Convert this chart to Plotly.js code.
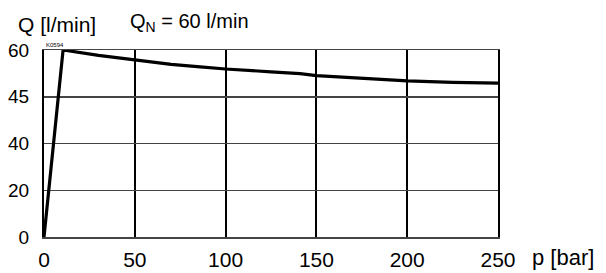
<!DOCTYPE html>
<html>
<head>
<meta charset="utf-8">
<script src="https://cdn.plot.ly/plotly-3.0.1.min.js"></script>
<style>html,body{margin:0;padding:0;background:#fff}#chart{width:606px;height:273px}</style>
</head>
<body>
<div id="chart"></div>
<script>
// Flow curve: pressure p [bar] vs flow Q [l/min]
const pressure = [0, 10.5, 30, 50, 70, 86, 100, 125, 141, 150, 175, 200, 225, 250];
const flow     = [0, 60, 58.3, 56.8, 55.4, 54.6, 53.9, 53.0, 52.4, 51.8, 50.9, 50.1, 49.6, 49.4];
const xTicks = [0, 50, 100, 150, 200, 250];
const yTickLabels = [0, 20, 40, 45, 60];   // evenly spaced gridlines on the original chart

// axis places the labelled Q values at equal steps; map Q onto that axis piecewise
function qToAxis(q) {
  for (let i = 0; i < yTickLabels.length - 1; i++) {
    const a = yTickLabels[i], b = yTickLabels[i + 1];
    if (q <= b) return i + (q - a) / (b - a);
  }
  return yTickLabels.length - 1;
}
const yPos = flow.map(qToAxis);
const yTickVals = yTickLabels.map((_, i) => i);

const font = 'Liberation Sans, Arial, sans-serif';

Plotly.newPlot('chart', [{
  x: pressure, y: yPos, type: 'scatter', mode: 'lines',
  line: {color: '#000', width: 3.2, shape: 'linear'},
  hoverinfo: 'skip'
}], {
  width: 606, height: 273,
  margin: {l: 44, r: 108, t: 50, b: 36},
  paper_bgcolor: '#fff', plot_bgcolor: '#fff',
  showlegend: false,
  font: {family: font, color: '#000', size: 18},
  xaxis: {
    range: [0, 250], tickvals: xTicks, ticktext: xTicks.map(String),
    showgrid: true, gridcolor: '#000', gridwidth: 2,
    zeroline: false, showline: true, mirror: true, linecolor: '#444', linewidth: 1.5,
    ticks: '', ticklabelstandoff: 3, tickfont: {family: font, size: 21, color: '#000'},
    fixedrange: true
  },
  yaxis: {
    range: [0, 4], tickvals: yTickVals, ticktext: yTickLabels.map(String),
    showgrid: true, gridcolor: '#444', gridwidth: 1.5,
    zeroline: false, showline: true, mirror: true, linecolor: '#000', linewidth: 2,
    ticks: '', ticklabelstandoff: 9, tickfont: {family: font, size: 19, color: '#000'},
    fixedrange: true
  },
  annotations: [
    {text: 'Q [l/min]', xref: 'paper', yref: 'paper', x: -0.062, y: 1.0, xanchor: 'left', yanchor: 'bottom', yshift: 12, showarrow: false, font: {family: font, size: 21}},
    {text: 'Q<sub>N</sub> = 60 l/min', xref: 'paper', yref: 'paper', x: 0.185, y: 1.0, xanchor: 'left', yanchor: 'bottom', yshift: 13, showarrow: false, font: {family: font, size: 20}},
    {text: 'K0594', xref: 'paper', yref: 'paper', x: 0.0, y: 1.0, xanchor: 'left', yanchor: 'bottom', yshift: 0, showarrow: false, font: {family: font, size: 6}},
    {text: 'p [bar]', xref: 'paper', yref: 'paper', x: 1.0, y: 0, xanchor: 'left', yanchor: 'top', xshift: 32, yshift: -6, showarrow: false, font: {family: font, size: 22}}
  ]
}, {displayModeBar: false, staticPlot: true});
</script>
</body>
</html>
